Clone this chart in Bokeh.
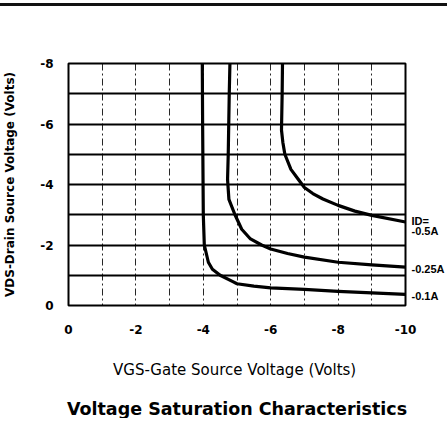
from bokeh.plotting import figure
from bokeh.models import Range1d, FixedTicker, SingleIntervalTicker, LinearAxis
from bokeh.embed import file_html
from bokeh.resources import INLINE

# ---- data (volts) ----
x_ticks = [0, -2, -4, -6, -8, -10]
y_ticks = [0, -2, -4, -6, -8]

id_01_x = [-3.97, -3.98, -4.0, -4.03, -4.15, -4.27, -4.5, -4.89, -5.0, -5.5, -6.0, -7.0, -8.0, -9.0, -10.0]
id_01_y = [-8.0, -6.0, -3.0, -2.0, -1.43, -1.2, -1.0, -0.78, -0.72, -0.64, -0.58, -0.53, -0.47, -0.42, -0.37]

id_025_x = [-4.79, -4.77, -4.74, -4.72, -4.76, -4.94, -5.14, -5.4, -5.73, -6.0, -6.5, -7.0, -8.0, -9.0, -10.0]
id_025_y = [-8.0, -7.0, -5.0, -4.16, -3.51, -3.0, -2.52, -2.2, -2.0, -1.87, -1.72, -1.6, -1.43, -1.34, -1.27]

id_05_x = [-6.35, -6.34, -6.32, -6.36, -6.42, -6.6, -6.8, -7.0, -7.25, -7.55, -8.0, -8.5, -9.0, -10.0]
id_05_y = [-8.0, -7.0, -5.8, -5.4, -5.0, -4.5, -4.2, -3.9, -3.7, -3.52, -3.31, -3.12, -2.98, -2.76]

curve_labels = ["ID=", "-0.5A", "-0.25A", "-0.1A"]
curve_label_y = [-2.79, -2.46, -1.21, -0.33]

x_title = "VGS-Gate Source Voltage  (Volts)"
y_title = "VDS-Drain Source Voltage (Volts)"
chart_title = "Voltage Saturation Characteristics"

FONT = "DejaVu Sans"

p = figure(width=447, height=415, output_backend="svg", toolbar_location=None,
           x_range=Range1d(0, -10), y_range=Range1d(0, -8),
           min_border_left=68, min_border_top=57, min_border_right=41, min_border_bottom=114)
# dark rule across the top of the page, above the canvas
p.styles = {"margin-top": "3px", "border-top": "3px solid #111111"}
p.background_fill_color = "white"
p.border_fill_color = "white"
p.outline_line_color = "black"
p.outline_line_width = 2

# grids
p.xgrid.ticker = SingleIntervalTicker(interval=1)
p.xgrid.grid_line_color = "black"
p.xgrid.grid_line_width = 1
p.xgrid.grid_line_dash = "7 3 2 3"
p.xgrid.grid_line_alpha = 0.85
p.ygrid.ticker = SingleIntervalTicker(interval=1)
p.ygrid.grid_line_color = "black"
p.ygrid.grid_line_width = 2


def clean(ax):
    ax.axis_line_color = None
    ax.major_tick_line_color = None
    ax.minor_tick_line_color = None
    ax.major_tick_out = 0
    ax.major_tick_in = 0
    ax.minor_tick_out = 0
    ax.minor_tick_in = 0
    ax.major_label_text_color = "black"
    ax.axis_label_text_color = "black"


for ax in (p.xaxis[0], p.yaxis[0]):
    clean(ax)
    ax.major_label_text_font = FONT
    ax.major_label_text_font_style = "bold"
    ax.major_label_text_font_size = "12px"
    ax.axis_label_text_font = FONT

p.xaxis.ticker = FixedTicker(ticks=x_ticks)
p.yaxis.ticker = FixedTicker(ticks=y_ticks)
p.xaxis.major_label_overrides = {t: str(t) for t in x_ticks}
p.yaxis.major_label_overrides = {t: str(t) for t in y_ticks}
p.xaxis.major_label_standoff = 19

p.yaxis.major_label_standoff = 15
p.yaxis.axis_label = y_title
p.yaxis.axis_label_text_font_size = "12px"
p.yaxis.axis_label_text_font_style = "bold"
p.yaxis.axis_label_standoff = 20

# second bottom axis: carries the x-axis title (as a centred label) and the chart title
bottom2 = LinearAxis(ticker=FixedTicker(ticks=[-5]), major_label_overrides={-5: x_title})
clean(bottom2)
bottom2.major_label_standoff = 24
bottom2.major_label_text_font = FONT
bottom2.major_label_text_font_style = "normal"
bottom2.major_label_text_font_size = "15px"
bottom2.axis_label = chart_title
bottom2.axis_label_standoff = 17
bottom2.axis_label_text_font = FONT
bottom2.axis_label_text_font_style = "bold"
bottom2.axis_label_text_font_size = "17.5px"
p.add_layout(bottom2, "below")

# right-hand axis carrying the curve labels (ID values)
right = LinearAxis(ticker=FixedTicker(ticks=curve_label_y),
                   major_label_overrides={v: t for v, t in zip(curve_label_y, curve_labels)})
clean(right)
right.major_label_standoff = 6
right.major_label_text_font = "Liberation Sans"
right.major_label_text_font_style = "bold"
right.major_label_text_font_size = "11px"
p.add_layout(right, "right")

# curves
for xs, ys in ((id_01_x, id_01_y), (id_025_x, id_025_y), (id_05_x, id_05_y)):
    p.line(xs, ys, line_color="black", line_width=3.2, line_join="round", line_cap="round")

open("out.html", "w").write(file_html(p, INLINE))
